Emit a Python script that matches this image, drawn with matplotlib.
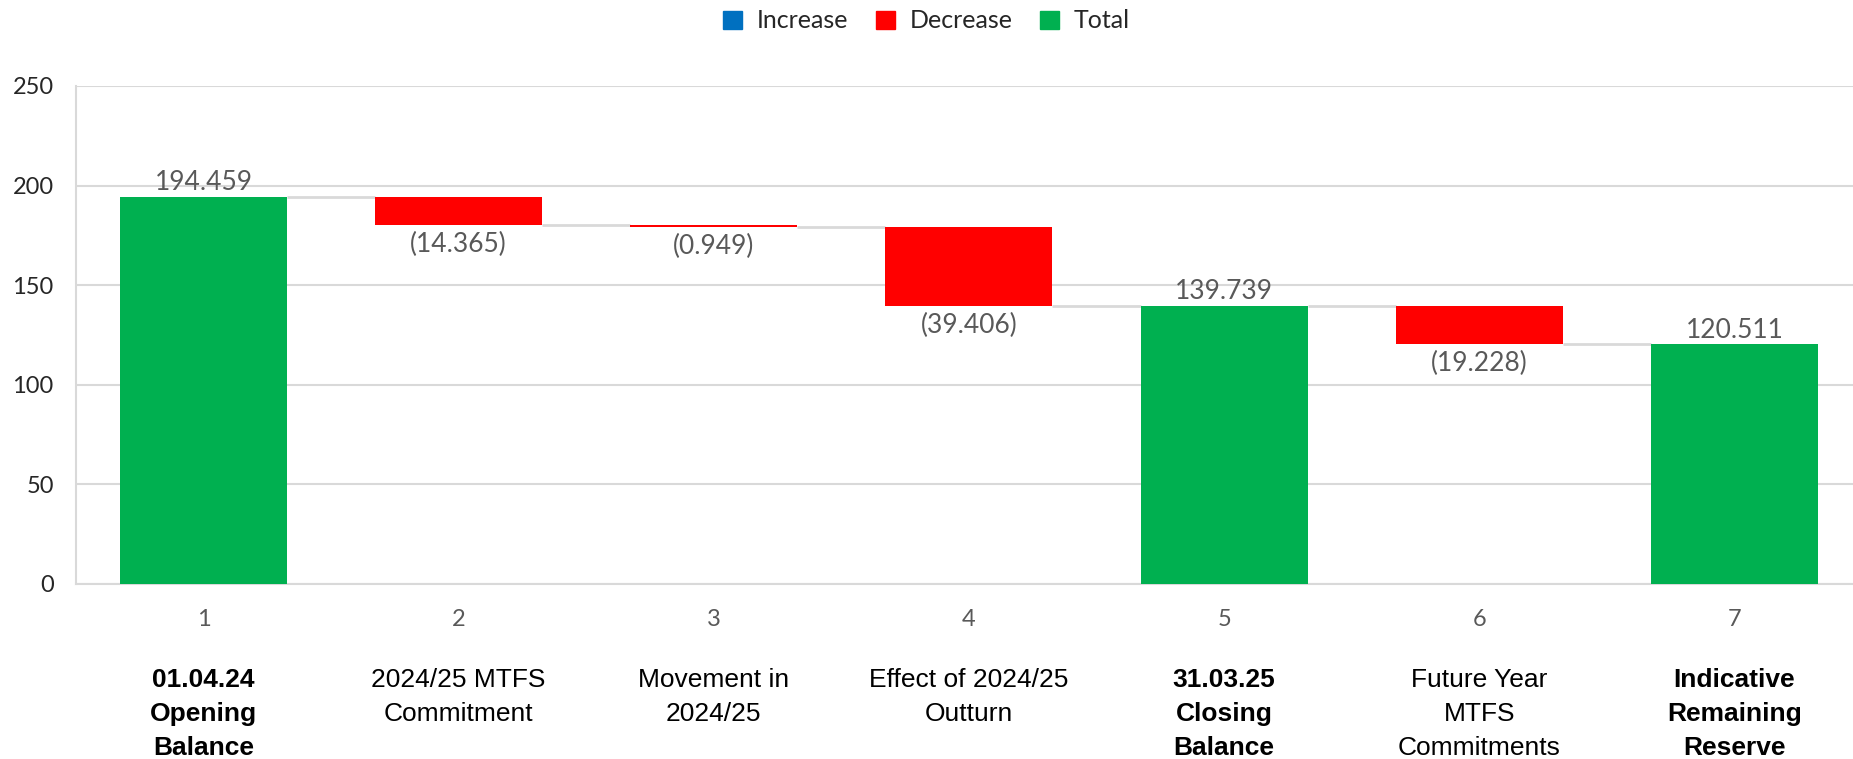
import matplotlib.pyplot as plt
from matplotlib.patches import Patch
from matplotlib.transforms import blended_transform_factory

# Waterfall data (reserve balance, £m)
categories = ["01.04.24\nOpening\nBalance", "2024/25 MTFS\nCommitment", "Movement in\n2024/25",
              "Effect of 2024/25\nOutturn", "31.03.25\nClosing\nBalance", "Future Year\nMTFS\nCommitments",
              "Indicative\nRemaining\nReserve"]
tick_labels = ["1", "2", "3", "4", "5", "6", "7"]
values = [194.459, -14.365, -0.949, -39.406, 139.739, -19.228, 120.511]
is_total = [True, False, False, False, True, False, True]
bold_labels = [True, False, False, False, True, False, True]

c_inc, c_dec, c_tot = "#0070C0", "#FF0000", "#00B050"
label_font = "Lato"

# work out bar bottoms / heights from running total
bottoms, heights, colors, levels = [], [], [], []
running = 0
for v, tot in zip(values, is_total):
    if tot:
        running = v
        bottoms.append(0)
        heights.append(v)
        colors.append(c_tot)
    else:
        new = running + v
        bottoms.append(min(running, new))
        heights.append(abs(v))
        colors.append(c_dec if v < 0 else c_inc)
        running = new
    levels.append(running)

fig = plt.figure(figsize=(18.53, 7.59), dpi=100)
ax = fig.add_axes([0.041, 0.2306, 0.9638, 0.6561])

x = list(range(1, len(values) + 1))
w = 0.655
ax.bar(x, heights, bottom=bottoms, width=w, color=colors, zorder=3)

# connector lines between bars
for i in range(len(values) - 1):
    ax.hlines(levels[i], x[i] + w / 2, x[i + 1] - w / 2, color="#D9D9D9", lw=2, zorder=2)

# data labels
for xi, v, b, h, tot in zip(x, values, bottoms, heights, is_total):
    if tot or v >= 0:
        ax.annotate(f"{v:.3f}", (xi, b + h), xytext=(0, 1), textcoords="offset points",
                    ha="center", va="bottom", fontsize=19, color="#595959", family=label_font)
    else:
        ax.annotate(f"({abs(v):.3f})", (xi, b), xytext=(0, -5), textcoords="offset points",
                    ha="center", va="top", fontsize=19, color="#595959", family=label_font)

ax.set_xlim(0.5, 7.5)
ax.set_ylim(0, 250)
ax.set_yticks([0, 50, 100, 150, 200, 250])
ax.grid(axis="y", color="#D9D9D9", lw=1.5, zorder=0)
ax.set_axisbelow(True)
for s in ["top", "right"]:
    ax.spines[s].set_visible(False)
for s in ["left", "bottom"]:
    ax.spines[s].set_color("#D9D9D9")
    ax.spines[s].set_linewidth(1.5)

ax.set_xticks(x)
ax.set_xticklabels(tick_labels)
ax.tick_params(axis="x", length=0, pad=18, labelsize=17, labelcolor="#595959")
ax.tick_params(axis="y", length=0, pad=16, labelsize=17, labelcolor="#262626")
for lab in ax.get_xticklabels() + ax.get_yticklabels():
    lab.set_family(label_font)

# category names under the numbers
trans = blended_transform_factory(ax.transData, fig.transFigure)
for xi, cat, bold in zip(x, categories, bold_labels):
    ax.text(xi, 1 - 668 / 759, cat, transform=trans, ha="center", va="top",
            fontsize=19, family="Liberation Sans", fontweight="bold" if bold else "normal",
            linespacing=1.52, color="black", clip_on=False)

handles = [Patch(color=c_inc, label="Increase"), Patch(color=c_dec, label="Decrease"),
           Patch(color=c_tot, label="Total")]
leg = fig.legend(handles=handles, loc="center", bbox_to_anchor=(0.5, 1 - 21 / 759), ncol=3,
                 frameon=False, handlelength=0.75, handleheight=0.75, handletextpad=0.6,
                 columnspacing=1.1, prop={"family": label_font, "size": 18})
for t in leg.get_texts():
    t.set_color("#262626")

fig.savefig("out.png", dpi=100)
